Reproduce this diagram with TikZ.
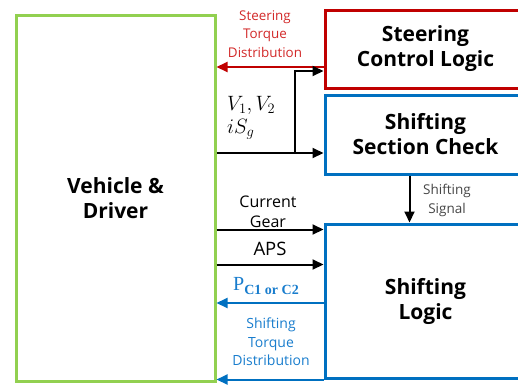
\documentclass[tikz,border=0pt]{standalone}
\usepackage{fontspec}
\setmainfont{Open Sans}
\newfontfamily\pfont{Liberation Serif}
\usetikzlibrary{arrows.meta,positioning}
\definecolor{boxgreen}{RGB}{146,208,80}
\definecolor{boxred}{RGB}{192,0,0}
\definecolor{boxblue}{RGB}{0,112,192}
\definecolor{txtred}{RGB}{210,40,40}
\definecolor{txtblue}{RGB}{25,125,205}
\definecolor{txtgray}{RGB}{70,70,70}
\begin{document}
\begin{tikzpicture}[x=1pt,y=-1pt,
    block/.style={draw=#1,line width=3pt,rectangle,align=center,text=black,
      font=\fontsize{21}{25}\selectfont\bfseries},
    link/.style={line width=2pt,-{Triangle[length=11pt,width=10pt]}},
    lbl/.style={align=center,inner sep=0pt}]
  \clip (0,0) rectangle (518,386);
  % blocks
  \node[block=boxgreen,minimum width=199pt,minimum height=366pt] (veh) at (115.5,198) {Vehicle \&\\Driver};
  \node[block=boxred,minimum width=201pt,minimum height=78pt] (steer) at (425.5,49) {Steering\\Control Logic};
  \node[block=boxblue,minimum width=201pt,minimum height=79pt] (check) at (425.5,134.5) {Shifting\\Section Check};
  \node[block=boxblue,minimum width=201pt,minimum height=154pt] (shift) at (425.5,301) {Shifting\\Logic};
  % ports
  \coordinate (sttq) at ([yshift=-18pt]steer.west);
  \coordinate (stin) at ([yshift=-22pt]steer.west);
  \coordinate (ckin) at ([yshift=-18.5pt]check.west);
  \coordinate (fork) at ([xshift=-29pt]check.west);
  \coordinate (gear) at ([yshift=-7pt]shift.north west);
  \coordinate (aps) at ([yshift=-42pt]shift.north west);
  \coordinate (pc) at ([yshift=-2pt]shift.west);
  \coordinate (shtq) at (shift.south west);
  \coordinate (sgout) at ([xshift=-16pt]check.south);
  % connectors
  \draw[link,boxred] (sttq) -- (sttq -| veh.east);
  \draw[link] (ckin -| veh.east) -- (ckin);
  \draw[link] (ckin -| fork) |- (stin);
  \draw[link] (gear -| veh.east) -- (gear);
  \draw[link] (aps -| veh.east) -- (aps);
  \draw[link,boxblue] (pc) -- (pc -| veh.east);
  \draw[link,boxblue] (shtq) -- (shtq -| veh.east);
  \draw[link] (sgout) -- (sgout |- shift.north);
  % labels
  \node[lbl,txtred,font=\fontsize{13.4}{18.5}\selectfont] (sttqlbl) at (265,34) {Steering\\Torque\\Distribution};
  \node[lbl,anchor=west,align=left,font=\fontsize{20}{23}\selectfont] (vlbl) at (227,118) {$V_1, V_2$\\$iS_g$};
  \node[lbl,font=\fontsize{16}{20}\selectfont] (gearlbl) at (268,212) {Current\\Gear};
  \node[lbl,font=\fontsize{18.5}{20}\selectfont] (apslbl) at (270,249) {APS};
  \node[lbl,txtblue,anchor=west] (pclbl) at (233,286) {\pfont\fontsize{20}{22}\selectfont P\textsubscript{\bfseries C1 or C2}};
  \node[lbl,txtblue,font=\fontsize{14}{18.5}\selectfont] (shtqlbl) at (271,342) {Shifting\\Torque\\Distribution};
  \node[lbl,txtgray,font=\fontsize{13.5}{19}\selectfont] (sglbl) at (447,200) {Shifting\\Signal};
\end{tikzpicture}
\end{document}
